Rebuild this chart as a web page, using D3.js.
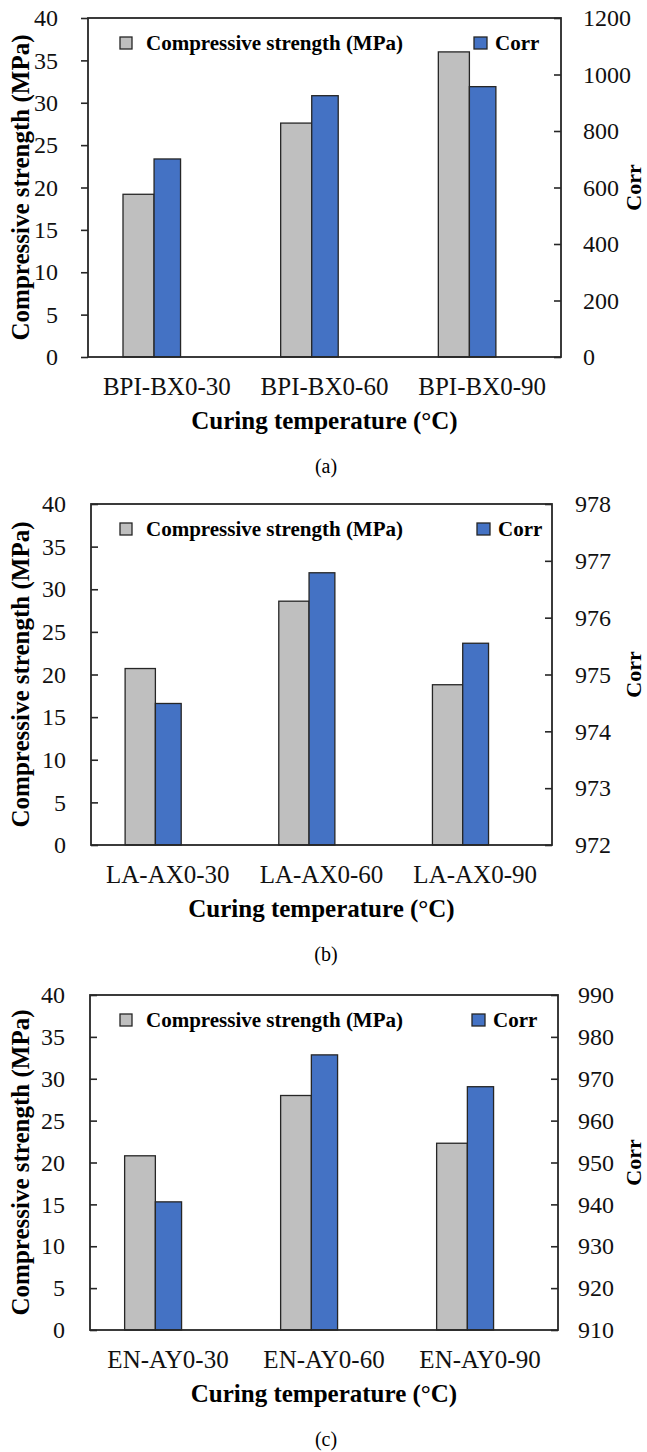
<!DOCTYPE html>
<html>
<head>
<meta charset="utf-8">
<script src="https://cdn.jsdelivr.net/npm/d3@7"></script>
<style>
  body { margin: 0; background: #fff; }
  svg { display: block; }
</style>
</head>
<body>
<svg id="chart" width="647" height="1452"></svg>
<script>
// data
const categoriesA = ["BPI-BX0-30", "BPI-BX0-60", "BPI-BX0-90"];
const strengthA = [19.2, 27.6, 36.0];
const corrA = [701, 925, 957];

const categoriesB = ["LA-AX0-30", "LA-AX0-60", "LA-AX0-90"];
const strengthB = [20.7, 28.6, 18.8];
const corrB = [974.49, 976.79, 975.55];

const categoriesC = ["EN-AY0-30", "EN-AY0-60", "EN-AY0-90"];
const strengthC = [20.8, 28.0, 22.3];
const corrC = [940.6, 975.7, 968.1];

const strengthTicks = [0, 5, 10, 15, 20, 25, 30, 35, 40];
const corrTicksA = [0, 200, 400, 600, 800, 1000, 1200];
const corrTicksB = [972, 973, 974, 975, 976, 977, 978];
const corrTicksC = [910, 920, 930, 940, 950, 960, 970, 980, 990];

const FONT = "'Liberation Serif', 'Times New Roman', serif";
const GRAY = "#bfbfbf";
const BLUE = "#4472c4";
const LINE = "#262626";

const svg = d3.select("#chart");

function drawPanel(p) {
  const g = svg.append("g");

  const x = d3.scaleBand().domain(p.categories).range([p.left, p.right]);
  const yL = d3.scaleLinear().domain([0, 40]).range([p.bottom, p.top]);
  const yR = d3.scaleLinear().domain(d3.extent(p.corrTicks)).range([p.bottom, p.top]);
  const bw = x.bandwidth();

  // bars: gray on the left axis, blue on the right axis
  g.selectAll(".s").data(p.strength).enter().append("rect")
    .attr("x", (d, i) => x(p.categories[i]) + bw * 0.222)
    .attr("width", bw * 0.197)
    .attr("y", d => yL(d))
    .attr("height", d => p.bottom - yL(d))
    .attr("fill", GRAY).attr("stroke", LINE).attr("stroke-width", 1.3);

  g.selectAll(".c").data(p.corr).enter().append("rect")
    .attr("x", (d, i) => x(p.categories[i]) + bw * 0.419)
    .attr("width", bw * 0.168)
    .attr("y", d => yR(d))
    .attr("height", d => p.bottom - yR(d))
    .attr("fill", BLUE).attr("stroke", LINE).attr("stroke-width", 1.3);

  // frame
  g.append("rect")
    .attr("x", p.left).attr("y", p.top)
    .attr("width", p.right - p.left).attr("height", p.bottom - p.top)
    .attr("fill", "none").attr("stroke", LINE).attr("stroke-width", 1.8);

  const left = g.append("g")
    .attr("transform", `translate(${p.left},0)`)
    .call(d3.axisLeft(yL).tickValues(strengthTicks).tickFormat(d3.format("d"))
      .tickSizeInner(p.leftTickIn ? -7 : 7).tickSizeOuter(0)
      .tickPadding(p.leftTickIn ? 25 : 23));

  const right = g.append("g")
    .attr("transform", `translate(${p.right},0)`)
    .call(d3.axisRight(yR).tickValues(p.corrTicks).tickFormat(d3.format("d"))
      .tickSizeInner(-7).tickSizeOuter(0).tickPadding(p.rightPad));

  const bottom = g.append("g")
    .attr("transform", `translate(0,${p.bottom})`)
    .call(d3.axisBottom(x).tickSize(0).tickPadding(20));

  [left, right, bottom].forEach(a => {
    a.attr("font-family", FONT);
    a.select(".domain").remove();
    a.selectAll("line").attr("stroke", LINE).attr("stroke-width", 1.6);
    a.selectAll("text").attr("font-family", FONT).attr("fill", "#111");
  });
  left.selectAll("text").attr("font-size", 24);
  right.selectAll("text").attr("font-size", 24);
  bottom.selectAll("text").attr("font-size", 25);

  // legend
  const ly = p.top + 32;
  g.append("rect").attr("x", p.legendX).attr("y", ly - 13).attr("width", 12).attr("height", 12)
    .attr("fill", GRAY).attr("stroke", LINE).attr("stroke-width", 1.3);
  g.append("text").attr("x", p.legendX + 26).attr("y", ly)
    .attr("font-family", FONT).attr("font-weight", "bold").attr("font-size", 21)
    .text("Compressive strength (MPa)");
  g.append("rect").attr("x", p.legendX2).attr("y", ly - 13).attr("width", 13).attr("height", 12)
    .attr("fill", BLUE).attr("stroke", LINE).attr("stroke-width", 1.3);
  g.append("text").attr("x", p.legendX2 + 21).attr("y", ly)
    .attr("font-family", FONT).attr("font-weight", "bold").attr("font-size", 21)
    .text("Corr");

  // axis titles
  const midY = (p.top + p.bottom) / 2;
  g.append("text")
    .attr("transform", `translate(29,${midY}) rotate(-90)`)
    .attr("text-anchor", "middle")
    .attr("font-family", FONT).attr("font-weight", "bold").attr("font-size", 25)
    .text("Compressive strength (MPa)");
  g.append("text")
    .attr("transform", `translate(641,${midY}) rotate(-90)`)
    .attr("text-anchor", "middle")
    .attr("font-family", FONT).attr("font-weight", "bold").attr("font-size", 22)
    .text("Corr");
  g.append("text")
    .attr("x", (p.left + p.right) / 2).attr("y", p.bottom + 72)
    .attr("text-anchor", "middle")
    .attr("font-family", FONT).attr("font-weight", "bold").attr("font-size", 25)
    .text("Curing temperature (\u00B0C)");
  g.append("text")
    .attr("x", 326).attr("y", p.bottom + 116)
    .attr("text-anchor", "middle")
    .attr("font-family", FONT).attr("font-size", 20)
    .text(p.caption);
}

drawPanel({
  categories: categoriesA, strength: strengthA, corr: corrA, corrTicks: corrTicksA,
  left: 88, right: 561, top: 18, bottom: 357, leftTickIn: false, rightPad: 22,
  legendX: 120, legendX2: 474, caption: "(a)"
});
drawPanel({
  categories: categoriesB, strength: strengthB, corr: corrB, corrTicks: corrTicksB,
  left: 91, right: 552, top: 504, bottom: 845, leftTickIn: true, rightPad: 23,
  legendX: 120, legendX2: 477, caption: "(b)"
});
drawPanel({
  categories: categoriesC, strength: strengthC, corr: corrC, corrTicks: corrTicksC,
  left: 90, right: 558, top: 995, bottom: 1330, leftTickIn: true, rightPad: 20,
  legendX: 120, legendX2: 472, caption: "(c)"
});
</script>
</body>
</html>
